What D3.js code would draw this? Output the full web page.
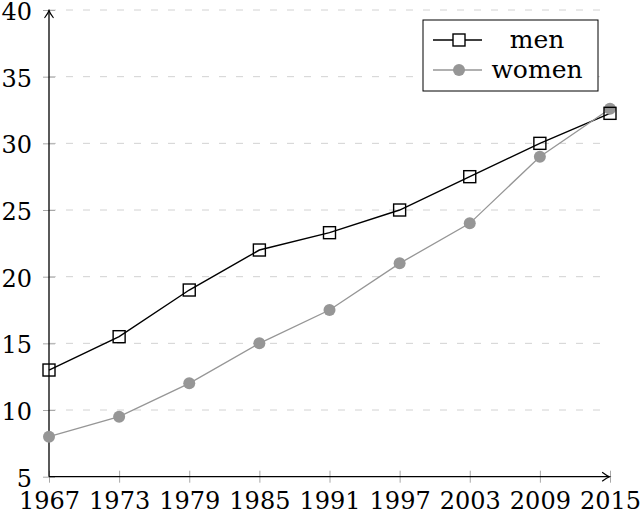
<!DOCTYPE html>
<html>
<head>
<meta charset="utf-8">
<script src="https://cdn.jsdelivr.net/npm/d3@7"></script>
<style>
  body { margin: 0; background: #fff; }
  svg text { font-family: "DejaVu Serif", serif; }
</style>
</head>
<body>
<svg id="chart"></svg>
<script>
// data
const years = [1967, 1973, 1979, 1985, 1991, 1997, 2003, 2009, 2015];
const men = [13, 15.5, 19, 22, 23.3, 25, 27.5, 30, 32.25];
const women = [8, 9.5, 12, 15, 17.5, 21, 24, 29, 32.6];
const yTicks = [5, 10, 15, 20, 25, 30, 35, 40];
const seriesNames = ['men', 'women'];

const w = 640, h = 515;
const margin = { top: 10, right: 30, bottom: 38.3, left: 49 };
const serif = '"DejaVu Serif", serif';
const fs = 24;

const svg = d3.select('#chart').attr('width', w).attr('height', h);

const x = d3.scaleLinear().domain([1967, 2015]).range([margin.left, w - margin.right]);
const y = d3.scaleLinear().domain([5, 40]).range([h - margin.bottom, margin.top]);

// arrow head for the axis lines
svg.append('defs').append('marker')
  .attr('id', 'arrow')
  .attr('viewBox', '-10 -6 12 12')
  .attr('refX', 0).attr('refY', 0)
  .attr('markerWidth', 12).attr('markerHeight', 12)
  .attr('markerUnits', 'userSpaceOnUse')
  .attr('orient', 'auto')
  .append('path')
  .attr('d', 'M-7,-4.2 Q-2.5,-0.8 0,0 Q-2.5,0.8 -7,4.2')
  .attr('fill', 'none')
  .attr('stroke', '#000')
  .attr('stroke-width', 1.2)
  .attr('stroke-linecap', 'round');

// dashed grid
svg.append('g').attr('class', 'grid')
  .selectAll('line').data(yTicks.filter(d => d > 5)).join('line')
  .attr('x1', x(1967)).attr('x2', x(2015))
  .attr('y1', d => y(d)).attr('y2', d => y(d))
  .attr('stroke', '#d2d2d2')
  .attr('stroke-width', 1)
  .attr('stroke-dasharray', '7,10');

// x axis
const xAxis = svg.append('g')
  .attr('transform', `translate(0, ${y(5)})`)
  .call(d3.axisBottom(x).tickValues(years).tickFormat(d3.format('d')).tickSize(6).tickPadding(9));
xAxis.attr('font-family', serif);
xAxis.select('.domain').remove();
xAxis.selectAll('.tick line').attr('y1', -6).attr('y2', 6).attr('stroke', '#a8a8a8');
xAxis.selectAll('.tick text').attr('font-size', fs).attr('fill', '#000');

// y axis
const yAxis = svg.append('g')
  .attr('transform', `translate(${x(1967)}, 0)`)
  .call(d3.axisLeft(y).tickValues(yTicks).tickSize(6).tickPadding(11));
yAxis.attr('font-family', serif);
yAxis.select('.domain').remove();
yAxis.selectAll('.tick line').attr('x1', -6).attr('x2', 6).attr('stroke', '#a8a8a8');
yAxis.selectAll('.tick text').attr('font-size', fs).attr('fill', '#000').attr('dy', '0.4em');

// axis lines with arrows
svg.append('line')
  .attr('x1', x(1967)).attr('x2', x(2015) - 0.5)
  .attr('y1', y(5)).attr('y2', y(5))
  .attr('stroke', '#000').attr('stroke-width', 1.3)
  .attr('marker-end', 'url(#arrow)');
svg.append('line')
  .attr('x1', x(1967)).attr('x2', x(1967))
  .attr('y1', y(5)).attr('y2', y(40) + 0.5)
  .attr('stroke', '#000').attr('stroke-width', 1.3)
  .attr('marker-end', 'url(#arrow)');

const lineGen = d3.line().x(d => x(d[0])).y(d => y(d[1]));
const menPts = years.map((yr, i) => [yr, men[i]]);
const womenPts = years.map((yr, i) => [yr, women[i]]);

// men series
svg.append('path')
  .datum(menPts)
  .attr('d', lineGen)
  .attr('fill', 'none')
  .attr('stroke', '#000')
  .attr('stroke-width', 1.4);

// women series
svg.append('path')
  .datum(womenPts)
  .attr('d', lineGen)
  .attr('fill', 'none')
  .attr('stroke', '#969696')
  .attr('stroke-width', 1.3);

svg.append('g').selectAll('circle').data(womenPts).join('circle')
  .attr('cx', d => x(d[0]))
  .attr('cy', d => y(d[1]))
  .attr('r', 6)
  .attr('fill', '#969696');

svg.append('g').selectAll('rect').data(menPts).join('rect')
  .attr('x', d => x(d[0]) - 6)
  .attr('y', d => y(d[1]) - 6)
  .attr('width', 12).attr('height', 12)
  .attr('fill', 'none')
  .attr('stroke', '#000')
  .attr('stroke-width', 1.4);

// legend
const legend = svg.append('g').attr('transform', 'translate(423, 20)');
legend.append('rect')
  .attr('width', 175).attr('height', 71)
  .attr('fill', '#fff')
  .attr('stroke', '#000')
  .attr('stroke-width', 1);

const legendItems = legend.selectAll('.legend-items').data(seriesNames).join('g')
  .attr('class', 'legend-items')
  .attr('transform', (d, i) => `translate(0, ${20 + i * 30})`);

legendItems.append('line')
  .attr('x1', 10).attr('x2', 59)
  .attr('stroke', d => d === 'men' ? '#000' : '#969696')
  .attr('stroke-width', d => d === 'men' ? 1.4 : 1.3);

legendItems.filter(d => d === 'men').append('rect')
  .attr('x', 36 - 6).attr('y', -6)
  .attr('width', 12).attr('height', 12)
  .attr('fill', '#fff')
  .attr('stroke', '#000')
  .attr('stroke-width', 1.4);

legendItems.filter(d => d === 'women').append('circle')
  .attr('cx', 36).attr('r', 6)
  .attr('fill', '#969696');

legendItems.append('text')
  .attr('x', 114)
  .attr('y', 0)
  .attr('dy', '0.32em')
  .attr('text-anchor', 'middle')
  .attr('font-family', serif)
  .attr('font-size', 25)
  .text(d => d);
</script>
</body>
</html>
